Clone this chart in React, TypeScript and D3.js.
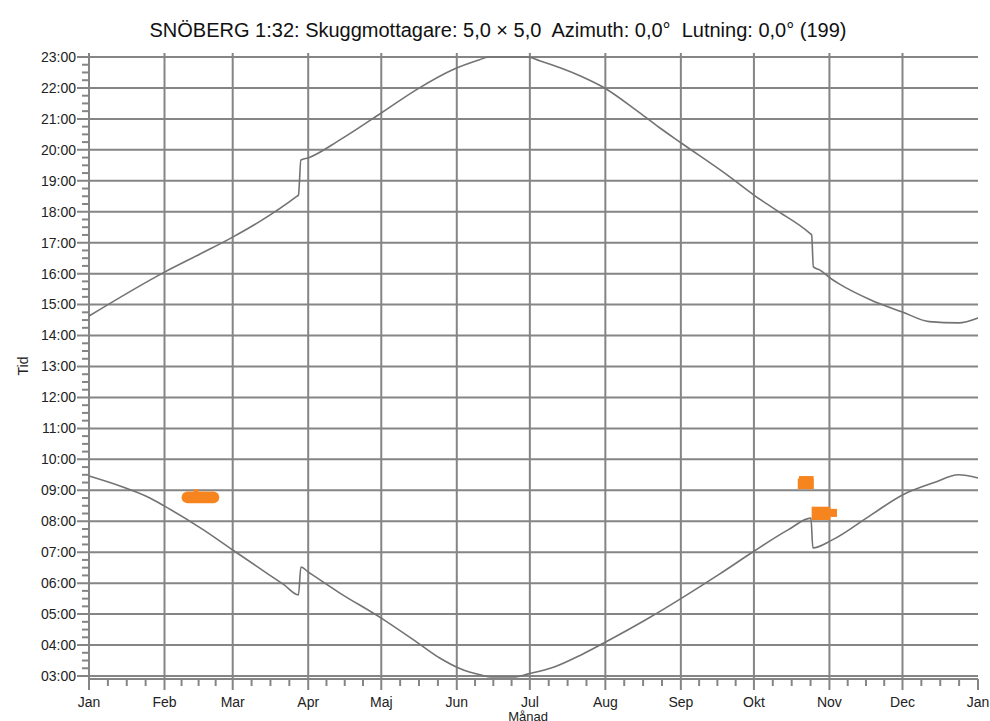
import React from "react";
import * as d3 from "d3";

const TITLE = "SNÖBERG 1:32: Skuggmottagare: 5,0 × 5,0  Azimuth: 0,0°  Lutning: 0,0° (199)";
const X_TITLE = "Månad";
const Y_TITLE = "Tid";

const MONTH_LABELS = ["Jan", "Feb", "Mar", "Apr", "Maj", "Jun", "Jul", "Aug", "Sep", "Okt", "Nov", "Dec", "Jan"];
const MONTH_START_DAYS = [0, 31, 59, 90, 120, 151, 181, 212, 243, 273, 304, 334, 365];
const HOUR_TICKS = [3, 4, 5, 6, 7, 8, 9, 10, 11, 12, 13, 14, 15, 16, 17, 18, 19, 20, 21, 22, 23];

// Sunset curve (day of year, decimal hour)
const SUNSET_DAYS = [0, 31, 46, 59, 70, 85, 86, 87, 90, 103, 120, 135, 150, 160, 164, 180, 185, 202, 211, 226, 234, 243, 262, 273, 282, 296, 296.7, 297.4, 300, 305, 308, 321, 334, 345, 357, 365];
const SUNSET_HOURS = [14.63, 16.05, 16.65, 17.18, 17.68, 18.48, 18.54, 19.67, 19.74, 20.32, 21.19, 21.97, 22.61, 22.9, 23.0, 23.0, 22.88, 22.38, 22.03, 21.2, 20.73, 20.23, 19.19, 18.54, 18.06, 17.3, 17.25, 16.22, 16.12, 15.82, 15.67, 15.15, 14.76, 14.45, 14.41, 14.57];

// Sunrise curve
const SUNRISE_DAYS = [0, 13, 25, 31, 47, 59, 74, 80, 86, 87, 90, 103, 120, 135, 144, 152, 161, 165, 175, 180, 191, 202, 211, 230, 243, 259, 273, 287, 296.4, 297.2, 305, 321, 334, 347, 357, 365];
const SUNRISE_HOURS = [9.46, 9.13, 8.75, 8.49, 7.72, 7.07, 6.27, 5.95, 5.62, 6.52, 6.36, 5.68, 4.87, 4.07, 3.58, 3.25, 3.03, 2.97, 2.97, 3.06, 3.29, 3.68, 4.05, 4.88, 5.5, 6.3, 7.03, 7.72, 8.1, 7.14, 7.39, 8.2, 8.85, 9.25, 9.5, 9.4];

// Shadow occurrences (orange cells)
const SHADOW_DAY_START = [38, 43, 291.5, 291, 296.7, 304.2];
const SHADOW_DAY_END = [53.5, 45, 297.5, 297.5, 304.4, 307.1];
const SHADOW_FROM = [8.58, 8.94, 9.04, 9.04, 8.04, 8.14];
const SHADOW_TO = [8.96, 9.03, 9.46, 9.38, 8.47, 8.4];
const SHADOW_ROUND = [6, 1, 0, 0, 0, 0];

const W = 990;
const H = 721;

export default function App() {
  const x = d3.scaleLinear().domain([0, 365]).range([89, 978]);
  const y = d3.scaleLinear().domain([2.903, 23.129]).range([679, 53]);
  const [y0, y1] = y.range();

  const line = d3
    .line<[number, number]>()
    .x((d) => x(d[0]))
    .y((d) => y(d[1]))
    .curve(d3.curveMonotoneX);

  const sunset: [number, number][] = SUNSET_DAYS.map((d, i) => [d, SUNSET_HOURS[i]]);
  const sunrise: [number, number][] = SUNRISE_DAYS.map((d, i) => [d, SUNRISE_HOURS[i]]);

  const minorX: number[] = [];
  for (let i = 0; i < MONTH_START_DAYS.length - 1; i++) {
    const a = MONTH_START_DAYS[i];
    const b = MONTH_START_DAYS[i + 1];
    for (let k = 1; k < 4; k++) minorX.push(a + ((b - a) * k) / 4);
  }
  const minorY: number[] = [];
  for (let h = 3; h < 23.1; h += 0.25) {
    if (Math.abs(h - Math.round(h)) > 0.01) minorY.push(h);
  }

  const grid = "#858585";
  const font = "'Liberation Sans', Arial, sans-serif";
  const fmt = (h: number) => (h < 10 ? "0" : "") + h + ":00";

  return (
    <svg width={W} height={H} style={{ position: "absolute", left: 0, top: 0, background: "#fff" }} fontFamily={font}>
      <rect x={0} y={0} width={W} height={H} fill="#fff" />
      <text x={498} y={37} textAnchor="middle" fontSize={20} fill="#111" style={{ whiteSpace: "pre" }}>
        {TITLE}
      </text>

      {/* horizontal gridlines */}
      {HOUR_TICKS.map((h) => (
        <line key={"h" + h} x1={77} x2={978} y1={y(h)} y2={y(h)} stroke={grid} strokeWidth={2} />
      ))}
      {/* vertical gridlines */}
      {MONTH_START_DAYS.slice(0, 12).map((d, i) => (
        <line key={"v" + i} x1={x(d)} x2={x(d)} y1={y1} y2={690} stroke={grid} strokeWidth={2} />
      ))}
      <line x1={x(365)} x2={x(365)} y1={y0} y2={690} stroke={grid} strokeWidth={2} />
      {/* x axis line */}
      <line x1={x(0)} x2={x(365)} y1={y0} y2={y0} stroke={grid} strokeWidth={2} />
      {/* minor ticks */}
      {minorX.map((d, i) => (
        <line key={"mx" + i} x1={x(d)} x2={x(d)} y1={y0} y2={686} stroke={grid} strokeWidth={2} />
      ))}
      {minorY.map((h, i) => (
        <line key={"my" + i} x1={82} x2={89} y1={y(h)} y2={y(h)} stroke={grid} strokeWidth={2} />
      ))}

      {/* shadow cells */}
      {SHADOW_DAY_START.map((d, i) => (
        <rect
          key={"s" + i}
          x={x(d)}
          y={y(SHADOW_TO[i])}
          width={x(SHADOW_DAY_END[i]) - x(d)}
          height={y(SHADOW_FROM[i]) - y(SHADOW_TO[i])}
          rx={SHADOW_ROUND[i]}
          fill="#f7851f"
        />
      ))}

      {/* curves */}
      <path d={line(sunset) || ""} fill="none" stroke="#737373" strokeWidth={1.6} />
      <path d={line(sunrise) || ""} fill="none" stroke="#737373" strokeWidth={1.6} />

      {/* y tick labels */}
      {HOUR_TICKS.map((h) => (
        <text key={"yl" + h} x={76} y={y(h)} dy="0.35em" textAnchor="end" fontSize={14} fill="#222">
          {fmt(h)}
        </text>
      ))}
      {/* x tick labels */}
      {MONTH_LABELS.map((m, i) => (
        <text key={"xl" + i} x={x(MONTH_START_DAYS[i])} y={707} textAnchor="middle" fontSize={14} fill="#222">
          {m}
        </text>
      ))}
      <text x={528} y={721} textAnchor="middle" fontSize={13} fill="#222">
        {X_TITLE}
      </text>
      <text transform={`translate(28,366) rotate(-90)`} textAnchor="middle" fontSize={14} fill="#222">
        {Y_TITLE}
      </text>
    </svg>
  );
}
